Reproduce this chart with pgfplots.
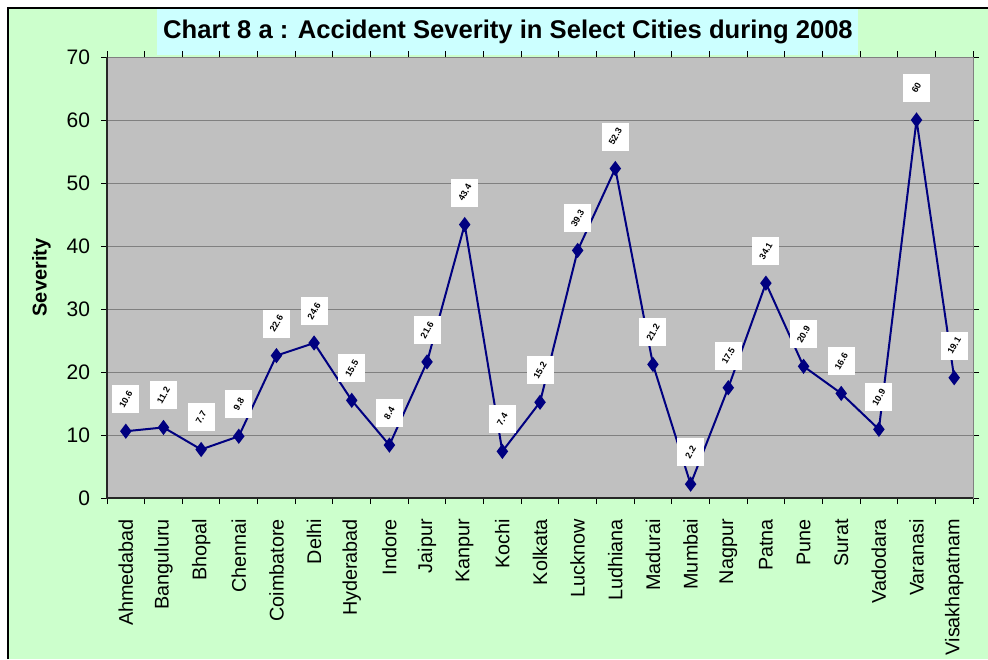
\documentclass[border=0pt]{standalone}
\usepackage{pgfplots}
\pgfplotsset{compat=1.18}
\usepackage{fontspec}
\setmainfont{Liberation Sans}
\definecolor{bggreen}{HTML}{CCFFCC}
\definecolor{titlecyan}{HTML}{CCFFFF}
\definecolor{plotgray}{HTML}{C0C0C0}
\definecolor{gridgray}{HTML}{808080}
\definecolor{navyline}{HTML}{000080}
\begin{document}
\begin{tikzpicture}
\useasboundingbox (0,0) rectangle (494pt,329.5pt);
\fill[white] (0,0) rectangle (494pt,329.5pt);
\fill[bggreen] (4pt,0) rectangle (494pt,325.5pt);
\draw[black,line width=1pt] (4pt,0) -- (4pt,325.5pt) -- (494pt,325.5pt);
\fill[titlecyan] (78.5pt,302pt) rectangle (429pt,325pt);
\node[font=\bfseries\fontsize{12.8}{14}\selectfont] at (254pt,313.5pt) {Chart 8 a : Accident Severity in Select Cities during 2008};
\begin{axis}[
  at={(53.5pt,80.5pt)}, anchor=south west,
  scale only axis, width=433pt, height=220.5pt,
  xmin=-0.5, xmax=22.5, ymin=0, ymax=70,
  axis background/.style={fill=plotgray},
  axis line style={gridgray},
  ytick={0,10,...,70},
  ymajorgrids, grid style={gridgray, line width=0.5pt},
  xtick={0,...,22},
  xticklabels={Ahmedabad,Banguluru,Bhopal,Chennai,Coimbatore,Delhi,Hyderabad,Indore,Jaipur,Kanpur,Kochi,Kolkata,Lucknow,Ludhiana,Madurai,Mumbai,Nagpur,Patna,Pune,Surat,Vadodara,Varanasi,Visakhapatnam},
  x tick label style={rotate=90, anchor=east, font=\fontsize{9.9}{12}\selectfont},
  xticklabel shift=4pt,
  y tick label style={font=\fontsize{10.5}{12}\selectfont},
  /pgf/number format/assume math mode=true,
  major x tick style={draw=none},
  minor xtick={-0.5,0.5,...,22.5},
  tick align=outside,
  major tick length=3pt, minor tick length=3pt,
  tick style={black, line width=0.5pt},
  yticklabel style={xshift=-2pt},
  ylabel={\bfseries Severity},
  ylabel style={font=\fontsize{9}{11}\selectfont},
  every axis y label/.style={at={(ticklabel cs:0.5)}, rotate=90, anchor=near ticklabel, yshift=1pt},
  clip=false,
]
\addplot[navyline, line width=1pt, mark=diamond*, mark size=3pt, mark options={fill=navyline, draw=navyline},
  nodes near coords={\rotatebox{60}{\pgfmathprintnumber[fixed,precision=1]{\pgfplotspointmeta}}},
  every node near coord/.style={fill=white, minimum width=13.5pt, minimum height=14pt, inner sep=0pt, anchor=center, yshift=16pt, font=\fontsize{4.5}{5}\selectfont\bfseries, text=black}
] coordinates {
(0,10.6) (1,11.2) (2,7.7) (3,9.8) (4,22.6) (5,24.6) (6,15.5) (7,8.4) (8,21.6) (9,43.4) (10,7.4) (11,15.2) (12,39.3) (13,52.3) (14,21.2) (15,2.2) (16,17.5) (17,34.1) (18,20.9) (19,16.6) (20,10.9) (21,60.0) (22,19.1)
};
\draw[black!85, line width=0.8pt] (rel axis cs:0,1) -- (rel axis cs:0,0) -- (rel axis cs:1,0);
\end{axis}
\end{tikzpicture}
\end{document}
